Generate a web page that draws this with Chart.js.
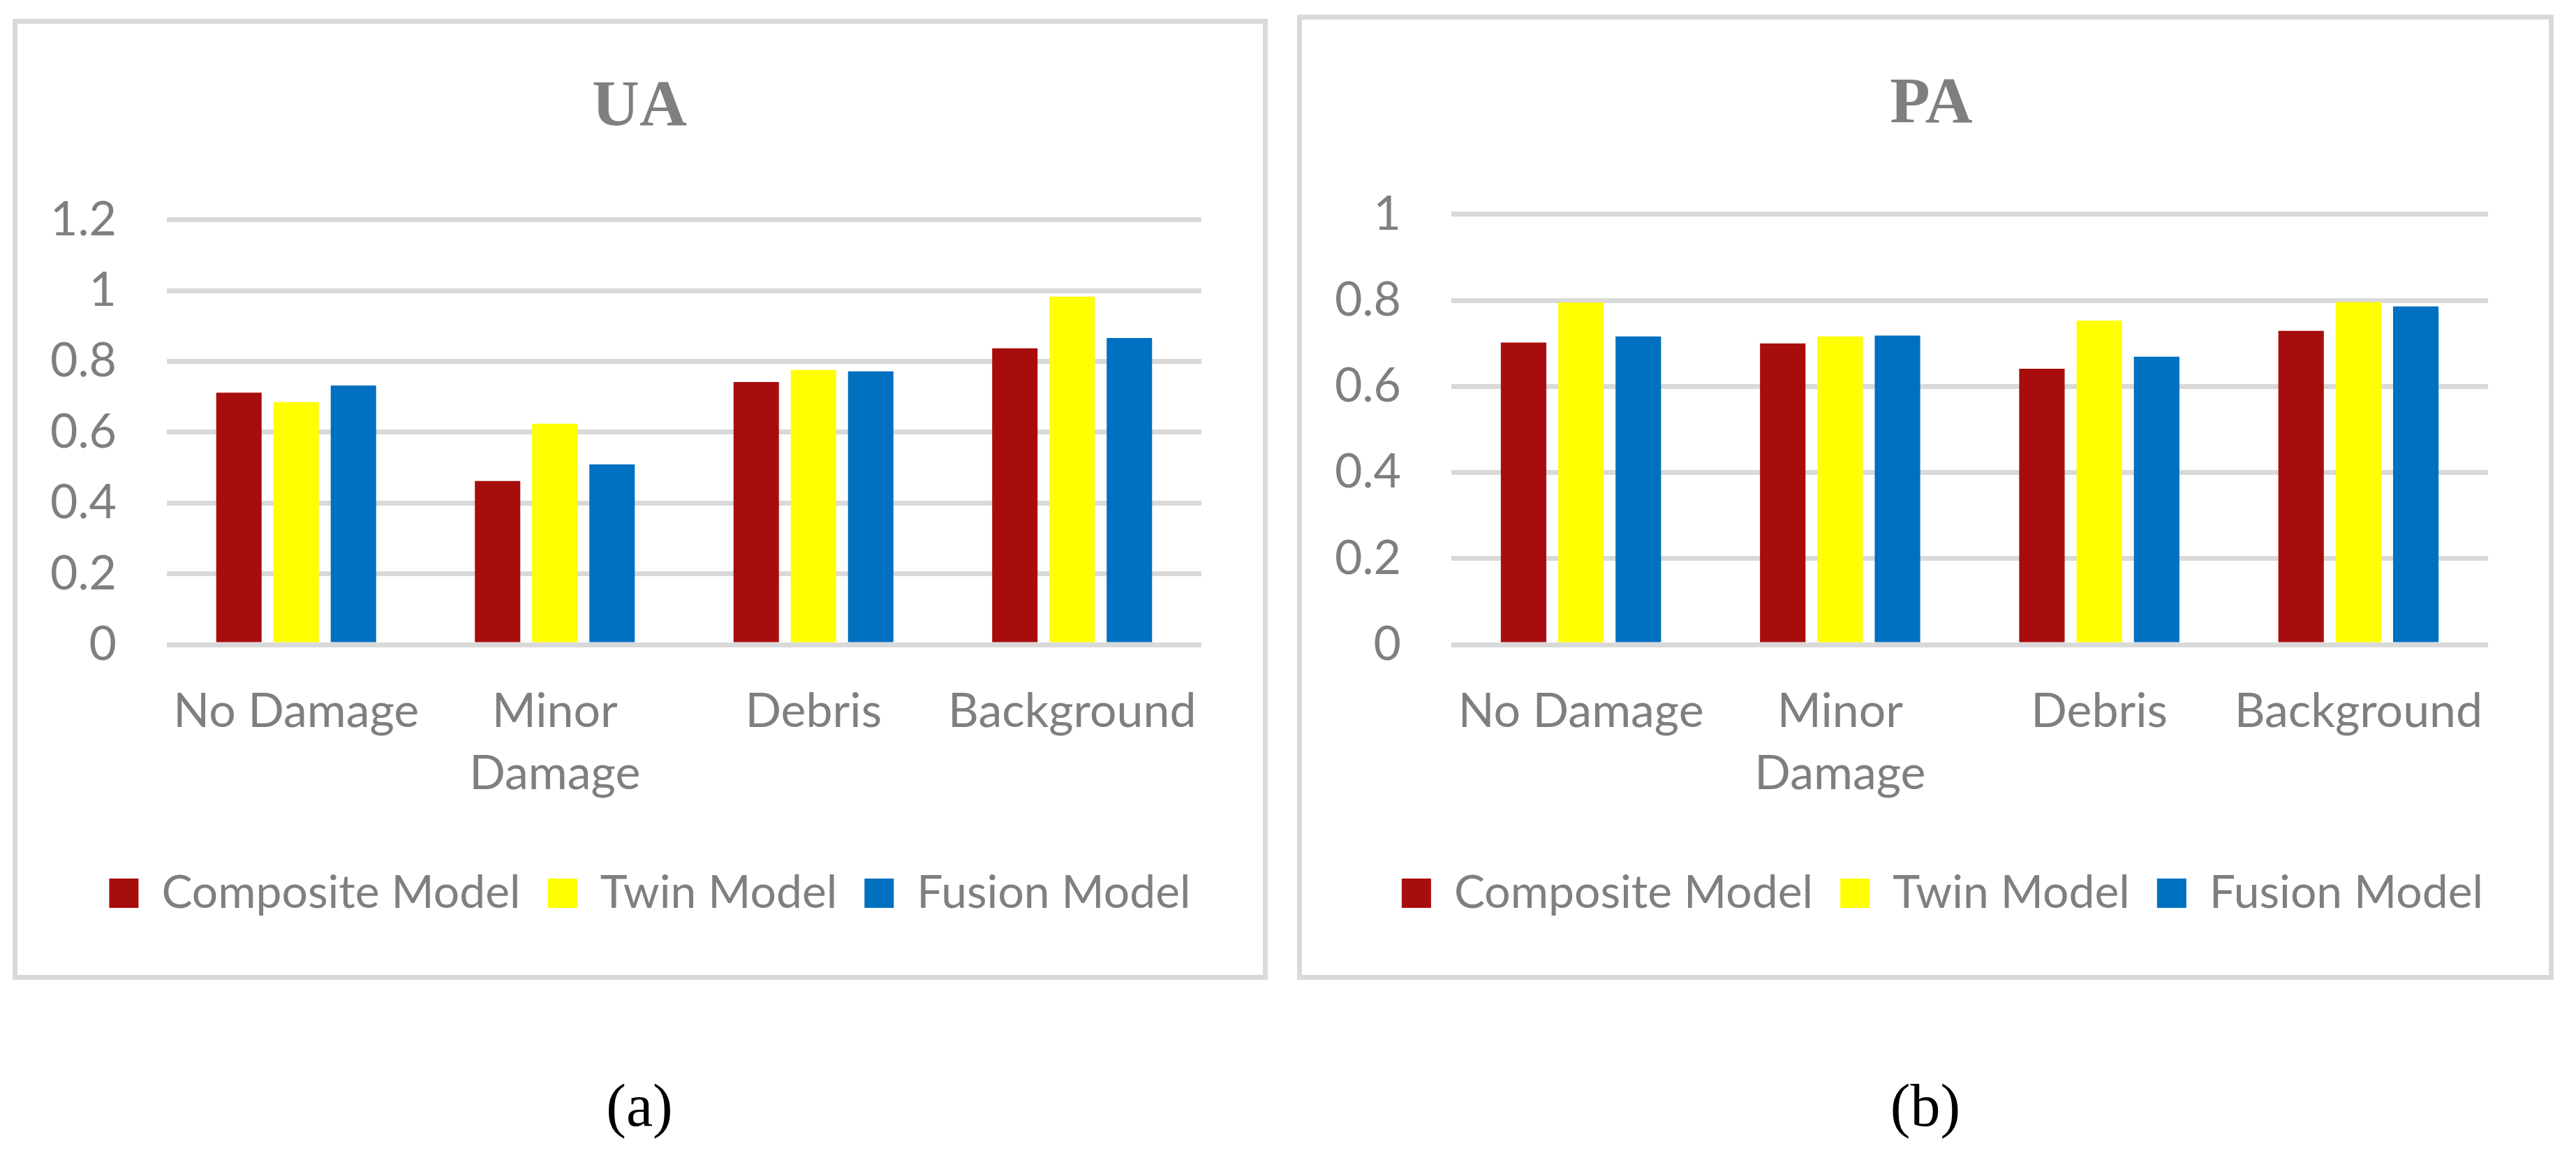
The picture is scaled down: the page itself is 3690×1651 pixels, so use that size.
<!DOCTYPE html>
<html>
<head>
<meta charset="utf-8">
<script src="https://cdn.jsdelivr.net/npm/chart.js@4.4.1/dist/chart.umd.min.js"></script>
<style>
  body { margin: 0; background: #fff; width: 3690px; height: 1651px; position: relative; overflow: hidden; }
  .panel { position: absolute; border: 7px solid #d9d9d9; background: #fff; }
  .panel canvas { display: block; }
  .cap { position: absolute; width: 400px; text-align: center; font-family: 'Liberation Serif', serif; font-size: 86px; line-height: 86px; color: #000; }
</style>
</head>
<body>
<div class="panel" style="left:18px;top:27px;width:1784px;height:1362px;">
  <canvas id="uaChart" width="1784" height="1362"></canvas>
</div>
<div class="panel" style="left:1858px;top:21px;width:1786px;height:1368px;">
  <canvas id="paChart" width="1786" height="1368"></canvas>
</div>
<div class="cap" style="left:716px;top:1540px;">(a)</div>
<div class="cap" style="left:2558px;top:1540px;">(b)</div>

<script>
const categories = ['No Damage', ['Minor', 'Damage'], 'Debris', 'Background'];
const seriesNames = ['Composite Model', 'Twin Model', 'Fusion Model'];
const seriesColors = ['#a80d0d', '#ffff00', '#0070c0'];

// UA values
const uaComposite = [0.712, 0.462, 0.742, 0.837];
const uaTwin = [0.685, 0.624, 0.776, 0.983];
const uaFusion = [0.732, 0.509, 0.772, 0.866];
const uaTicks = ['0', '0.2', '0.4', '0.6', '0.8', '1', '1.2'];

// PA values
const paComposite = [0.702, 0.700, 0.641, 0.729];
const paTwin = [0.795, 0.716, 0.753, 0.796];
const paFusion = [0.716, 0.718, 0.669, 0.786];
const paTicks = ['0', '0.2', '0.4', '0.6', '0.8', '1'];

const grey = '#7f7f7f';

// title and legend are centred on the whole panel, not on the space left of the right padding
const centerShift = {
  id: 'centerShift',
  afterLayout(chart, args, opts) {
    const t = chart.titleBlock;
    if (t) { t.left += opts.title; t.right += opts.title; }
    const l = chart.legend;
    if (l) { l.left += opts.legend; l.right += opts.legend; }
  },
};

function makeChart(id, title, series, tickLabels, yMax, titlePad, padRight, shift) {
  const ctx = document.getElementById(id).getContext('2d');
  return new Chart(ctx, {
    type: 'bar',
    data: {
      labels: categories,
      datasets: series.map((values, i) => ({
        label: seriesNames[i],
        data: values,
        backgroundColor: seriesColors[i],
        borderWidth: 0,
        categoryPercentage: 0.664,
        barPercentage: 0.793,
      })),
    },
    plugins: [centerShift],
    options: {
      responsive: false,
      animation: false,
      devicePixelRatio: 1,
      layout: { padding: { top: 0, left: 0, right: padRight, bottom: 74 } },
      plugins: {
        centerShift: shift,
        title: {
          display: true,
          text: title,
          color: grey,
          font: { family: 'Liberation Serif', size: 94, weight: 'bold', lineHeight: 1.2 },
          padding: titlePad,
        },
        legend: {
          position: 'bottom',
          labels: {
            color: grey,
            font: { family: 'Lato', size: 66 },
            boxWidth: 42,
            boxHeight: 42,
            padding: 39,
          },
        },
        tooltip: { enabled: false },
      },
      scales: {
        x: {
          grid: { display: false, drawTicks: false },
          border: { display: false },
          ticks: {
            color: grey,
            font: { family: 'Lato', size: 68, lineHeight: 1.316 },
            padding: 51,
            maxRotation: 0,
            autoSkip: false,
          },
          afterFit: scale => { scale.height = 284; },
        },
        y: {
          min: 0,
          max: yMax,
          grid: { color: '#d9d9d9', lineWidth: 7, drawTicks: false },
          border: { display: false },
          ticks: {
            stepSize: 0.2,
            color: grey,
            font: { family: 'Lato', size: 68 },
            padding: 72,
            callback: (value, index) => tickLabels[index],
          },
          afterFit: scale => { scale.width = 214; },
        },
      },
    },
  });
}

makeChart('uaChart', 'UA', [uaComposite, uaTwin, uaFusion], uaTicks, 1.2,
  { top: 64, bottom: 104 }, 88, { title: 43, legend: 58 });
makeChart('paChart', 'PA', [paComposite, paTwin, paFusion], paTicks, 1.0,
  { top: 66, bottom: 100 }, 87, { title: 52, legend: 68 });
</script>
</body>
</html>
